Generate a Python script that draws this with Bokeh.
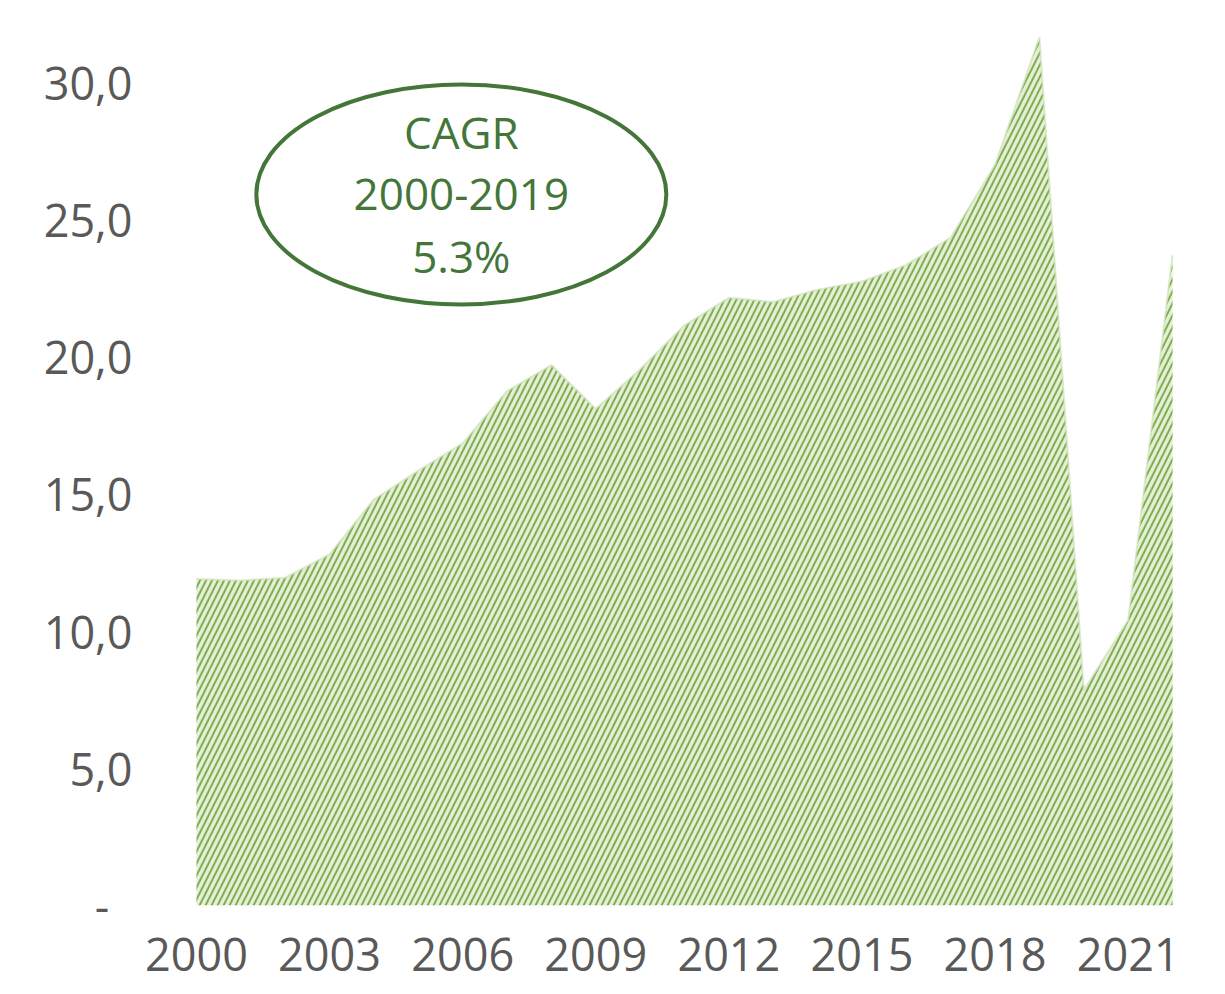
from bokeh.plotting import figure
from bokeh.models import FixedTicker, ColumnDataSource, Range1d
from bokeh.embed import file_html
from bokeh.resources import INLINE

years = list(range(2000, 2023))
values = [11.9, 11.85, 11.95, 12.8, 14.8, 15.85, 16.85, 18.75, 19.7, 18.1, 19.55,
          21.15, 22.15, 22.0, 22.45, 22.75, 23.35, 24.35, 27.0, 31.65, 7.85, 10.4, 23.7]

x_ticks = [2000, 2003, 2006, 2009, 2012, 2015, 2018, 2021]
y_ticks = [0, 5, 10, 15, 20, 25, 30]
y_tick_labels = ["-\u00a0\u00a0", "5,0", "10,0", "15,0", "20,0", "25,0", "30,0"]

cagr_lines = ["CAGR", "2000-2019", "5.3%"]

FONT = "Open Sans"
GREY = "#595959"
DARK_GREEN = "#437638"

p = figure(width=1209, height=986, output_backend="svg", toolbar_location=None,
           x_range=Range1d(1999.55, 2022.45), y_range=Range1d(0, 32.26),
           min_border_left=176, min_border_right=17, min_border_top=20, min_border_bottom=81)
p.outline_line_color = None
p.grid.visible = False
p.background_fill_color = "white"

src = ColumnDataSource(dict(x=years, y=values, y0=[0] * len(years)))
p.varea(x="x", y1="y0", y2="y", source=src, fill_color="#e3efd7",
        hatch_pattern="/", hatch_color="#82ae50", hatch_scale=12, hatch_weight=2)
p.line(x="x", y="y", source=src, line_color="#cfe2bb", line_width=2, line_alpha=0.7)

# axes
p.xaxis.ticker = FixedTicker(ticks=x_ticks)
p.yaxis.ticker = FixedTicker(ticks=y_ticks)
p.yaxis.major_label_overrides = {t: l for t, l in zip(y_ticks, y_tick_labels)}
for ax in (p.xaxis, p.yaxis):
    ax.axis_line_color = None
    ax.major_tick_line_color = None
    ax.minor_tick_line_color = None
    ax.major_label_text_font = FONT
    ax.major_label_text_font_size = "45px"
    ax.major_label_text_color = GREY
p.xaxis.major_label_standoff = 26
p.yaxis.major_label_standoff = 38

# CAGR annotation
cx, cy = 2005.97, 25.92
p.ellipse(x=[cx], y=[cy], width=[410], height=[220], width_units="screen",
          height_units="screen", fill_color=None, line_color=DARK_GREEN, line_width=4)
line_gap = 62 / 27.43
p.text(x=[cx] * 3, y=[cy + line_gap, cy, cy - line_gap], text=cagr_lines,
       text_align="center", text_baseline="middle", text_color=DARK_GREEN,
       text_font={"value": FONT}, text_font_size="44px")

open("out.html", "w").write(file_html(p, INLINE))
